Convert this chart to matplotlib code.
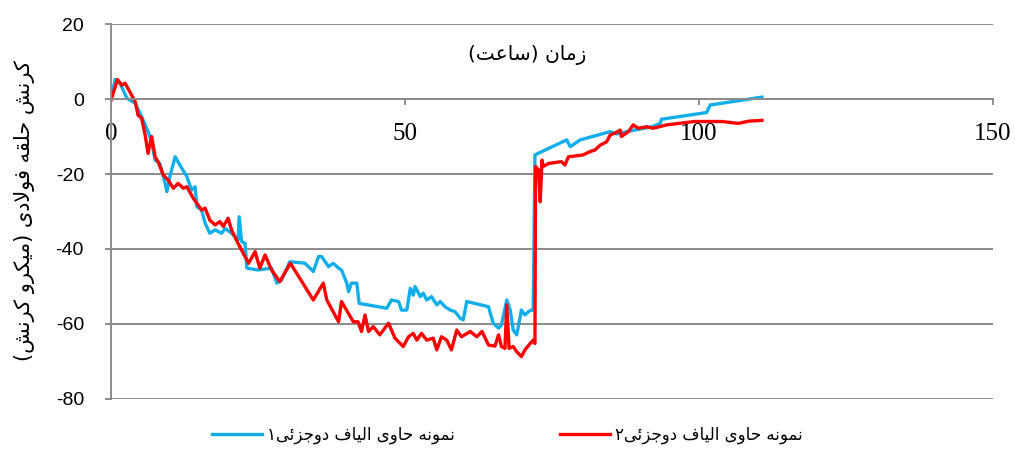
import matplotlib
matplotlib.use("Agg")
import matplotlib.pyplot as plt
from matplotlib.lines import Line2D

plt.rcParams['axes.unicode_minus'] = False

# داده ها: زمان (ساعت) و کرنش (میکرو کرنش)
hours_1 = [0, 0.7, 1.5, 2.7, 4.1, 5.2, 6.3, 6.9, 7.5, 8.3,
           9.2, 9.5, 10.0, 10.9, 11.7, 12.9, 13.7, 14.3, 14.6, 15.4,
           16.0, 16.8, 17.7, 18.8, 19.4, 20.5, 21.6, 21.8, 22.2, 22.8,
           23.1, 25.0, 27.3, 28.2, 29.0, 30.4, 33.0, 34.4, 35.3, 35.8,
           37.0, 37.8, 38.7, 39.2, 40.1, 40.4, 40.9, 41.8, 42.2, 46.9,
           47.7, 48.9, 49.4, 50.3, 50.9, 51.4, 51.7, 52.6, 53.1, 53.7,
           54.5, 55.4, 56.0, 56.8, 57.7, 58.5, 59.4, 59.9, 60.5, 64.2,
           65.0, 65.9, 66.4, 67.3, 67.9, 68.4, 69.0, 69.8, 70.4, 71.0,
           71.5, 71.8, 72.1, 74.4, 77.5, 78.1, 79.8, 84.9, 86, 88,
           90, 92, 93.4, 93.6, 101.3, 101.9, 110.7]
strain_1 = [0, 5.2, 4.3, 0.2, -1.1, -4.7, -8.7, -11.4, -16.3, -17.2,
            -22.5, -24.7, -20.7, -15.4, -17.6, -20.7, -24.3, -23.4, -28.7, -29.6,
            -33.1, -35.8, -34.9, -35.8, -34.5, -35.8, -37.6, -31.4, -38.0, -38.5,
            -45.1, -45.6, -45.1, -49.1, -48.3, -43.4, -43.8, -46.0, -42.0, -42.0,
            -44.7, -43.8, -45.1, -45.6, -49.1, -51.4, -49.1, -49.1, -54.5, -55.8,
            -53.6, -54.0, -56.3, -56.3, -50.5, -52.3, -50.0, -52.7, -51.8, -53.6,
            -52.7, -54.9, -54.0, -55.4, -56.3, -56.7, -58.5, -58.9, -54.0, -55.4,
            -59.8, -61.1, -60.3, -53.6, -56.3, -61.6, -62.9, -56.3, -57.6, -56.7,
            -56.3, -56.3, -14.9, -13.2, -10.9, -12.7, -10.9, -8.7, -9.3, -8.6,
            -8.0, -7.4, -6.5, -5.4, -3.6, -1.6, 0.5]

hours_2 = [0, 1.1, 1.8, 2.4, 3.2, 4.1, 4.6, 5.2, 5.8, 6.3,
           6.9, 7.5, 8.0, 8.9, 9.7, 10.6, 11.4, 12.3, 12.9, 14.0,
           15.4, 16.0, 16.8, 17.7, 18.5, 19.1, 19.9, 20.5, 21.6, 23.4,
           24.5, 25.3, 26.2, 27.3, 28.7, 30.5, 32.1, 34.4, 36.1, 36.7,
           38.7, 39.2, 41.2, 42.0, 42.6, 43.2, 43.8, 44.6, 45.7, 47.2,
           48.3, 49.7, 50.6, 51.4, 52.0, 52.8, 53.7, 54.8, 55.4, 56.2,
           57.1, 57.9, 58.8, 59.6, 61.1, 62.2, 63.1, 64.2, 65.3, 65.9,
           66.4, 67.0, 67.3, 67.7, 68.4, 69.0, 69.8, 70.4, 71.3, 71.8,
           72.1, 72.2, 72.7, 73.0, 73.3, 73.5, 74.4, 76.6, 77.2, 77.8,
           78.9, 80.3, 81.5, 82.3, 83.2, 84.3, 84.9, 85.7, 86.6, 86.8,
           88.0, 88.8, 89.7, 91.1, 92.2, 94.5, 99.2, 103.9, 106.7, 108.5,
           110.7]
strain_2 = [-0.3, 5.2, 3.7, 4.2, 1.9, -0.7, -4.3, -5.1, -9.6, -14.5,
            -10.0, -15.4, -16.7, -20.3, -21.6, -23.8, -22.5, -23.8, -23.4, -26.5,
            -29.6, -29.1, -32.3, -33.6, -32.7, -34.0, -31.8, -34.9, -38.5, -43.8,
            -40.7, -45.1, -41.6, -45.6, -48.7, -43.8, -47.8, -53.6, -49.1, -53.6,
            -59.4, -54.0, -59.4, -59.4, -62.0, -57.6, -62.0, -60.7, -62.9, -59.8,
            -63.8, -66.0, -63.4, -62.5, -64.3, -62.5, -64.3, -63.8, -66.9, -63.4,
            -64.3, -66.9, -61.6, -63.4, -62.0, -63.4, -62.0, -65.6, -65.9, -62.9,
            -66.0, -66.5, -54.9, -66.5, -66.0, -67.4, -68.7, -66.9, -65.2, -64.3,
            -65.2, -18.0, -18.9, -27.4, -16.3, -18.0, -17.2, -16.7, -17.6, -15.4,
            -15.2, -14.9, -14.0, -13.6, -12.3, -11.4, -9.6, -9.1, -8.3, -10.0,
            -8.7, -6.9, -7.8, -7.4, -7.8, -6.9, -6.0, -6.0, -6.5, -5.9,
            -5.7]

x_ticks = [0, 50, 100, 150]
y_ticks = [-80, -60, -40, -20, 0, 20]

label_1 = "نمونه حاوی الیاف دوجزئی۱"
label_2 = "نمونه حاوی الیاف دوجزئی۲"
x_title = "زمان (ساعت)"
y_title = "کرنش حلقه فولادی (میکرو کرنش)"

# شکل دهی حروف فارسی (matplotlib خودش این کار را نمی کند)
FORMS = {
    'ا': ('\uFE8D', '\uFE8E', None, None),
    'د': ('\uFEA9', '\uFEAA', None, None),
    'ر': ('\uFEAD', '\uFEAE', None, None),
    'ز': ('\uFEAF', '\uFEB0', None, None),
    'و': ('\uFEED', '\uFEEE', None, None),
    'ب': ('\uFE8F', '\uFE90', '\uFE91', '\uFE92'),
    'ت': ('\uFE95', '\uFE96', '\uFE97', '\uFE98'),
    'ج': ('\uFE9D', '\uFE9E', '\uFE9F', '\uFEA0'),
    'ح': ('\uFEA1', '\uFEA2', '\uFEA3', '\uFEA4'),
    'س': ('\uFEB1', '\uFEB2', '\uFEB3', '\uFEB4'),
    'ش': ('\uFEB5', '\uFEB6', '\uFEB7', '\uFEB8'),
    'ع': ('\uFEC9', '\uFECA', '\uFECB', '\uFECC'),
    'ف': ('\uFED1', '\uFED2', '\uFED3', '\uFED4'),
    'ق': ('\uFED5', '\uFED6', '\uFED7', '\uFED8'),
    'ل': ('\uFEDD', '\uFEDE', '\uFEDF', '\uFEE0'),
    'م': ('\uFEE1', '\uFEE2', '\uFEE3', '\uFEE4'),
    'ن': ('\uFEE5', '\uFEE6', '\uFEE7', '\uFEE8'),
    'ه': ('\uFEE9', '\uFEEA', '\uFEEB', '\uFEEC'),
    'ئ': ('\uFE89', '\uFE8A', '\uFE8B', '\uFE8C'),
    'ی': ('\uFBFC', '\uFBFD', '\uFBFE', '\uFBFF'),
    'ک': ('\uFB8E', '\uFB8F', '\uFB90', '\uFB91'),
}


def dual(c):
    return c in FORMS and FORMS[c][2] is not None


def rtl(text):
    out = []
    i = 0
    n = len(text)
    while i < n:
        c = text[i]
        prev = text[i - 1] if i > 0 else ''
        if c == 'ل' and i + 1 < n and text[i + 1] == 'ا':
            out.append('\uFEFC' if dual(prev) else '\uFEFB')
            i += 2
            continue
        if c not in FORMS:
            out.append(c)
            i += 1
            continue
        nxt = text[i + 1] if i + 1 < n else ''
        j_prev = dual(prev)
        j_next = dual(c) and nxt in FORMS
        iso, fin, ini, med = FORMS[c]
        if j_prev and j_next:
            out.append(med)
        elif j_prev:
            out.append(fin)
        elif j_next:
            out.append(ini)
        else:
            out.append(iso)
        i += 1
    vis = ''.join(reversed(out))
    return vis.translate(str.maketrans('()', ')('))


fa_font = ['DejaVu Sans']
blue = '#12AEEA'
red = '#FF0000'

fig = plt.figure(figsize=(10.15, 4.49), dpi=100)
ax = fig.add_axes([0.1094, 0.1114, 0.8689, 0.8351])

grid_c = '#8c8c8c'
ax.set_xlim(0, 150)
ax.set_ylim(-80, 20)
ax.set_yticks(y_ticks)
ax.set_xticks(x_ticks)
ax.yaxis.grid(True, color=grid_c, linewidth=1.4)
ax.set_axisbelow(True)

ax.plot(hours_1, strain_1, color=blue, linewidth=2.4, solid_joinstyle='round')
ax.plot(hours_2, strain_2, color=red, linewidth=2.4, solid_joinstyle='round')

for s in ['top', 'right']:
    ax.spines[s].set_visible(False)
ax.spines['left'].set_color(grid_c)
ax.spines['left'].set_linewidth(1.4)
ax.spines['bottom'].set_position(('data', 0))
ax.spines['bottom'].set_color(grid_c)
ax.spines['bottom'].set_linewidth(1.4)

ax.tick_params(axis='x', direction='out', length=4.5, width=1.4, color=grid_c, pad=12.5)
ax.tick_params(axis='y', direction='out', length=4.5, width=1.4, color=grid_c, pad=15)
for t in ax.get_xticklabels():
    t.set_family('Liberation Serif')
    t.set_fontsize(18)
for t in ax.get_yticklabels():
    t.set_family('Liberation Sans')
    t.set_fontsize(14)

fig.text(0.519, 0.877, rtl(x_title), family=fa_font, fontsize=14.5,
         ha='center', va='center')
fig.text(0.0246, 0.532, rtl(y_title), family=fa_font, fontsize=15,
         ha='center', va='center', rotation=90)

handles = [Line2D([], [], color=blue, linewidth=2.4),
           Line2D([], [], color=red, linewidth=2.4)]
fig.legend(handles, [rtl(label_1), rtl(label_2)], loc='center',
           bbox_to_anchor=(0.5, 0.031), ncol=2, frameon=False,
           prop={'family': fa_font, 'size': 12}, handlelength=3.0,
           handletextpad=0.3, columnspacing=6.3)

fig.savefig('out.png', dpi=100)
